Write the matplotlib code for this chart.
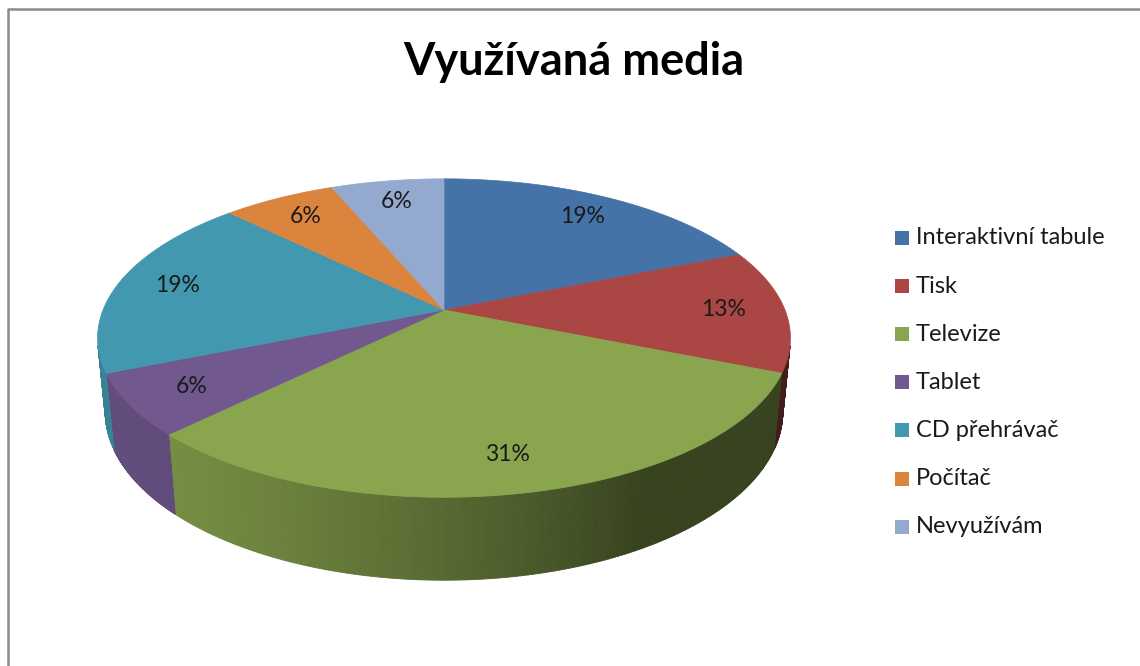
import numpy as np
import matplotlib
matplotlib.use("Agg")
import matplotlib.pyplot as plt
from matplotlib.patches import Polygon, Rectangle
from matplotlib.collections import PolyCollection
from matplotlib.colors import to_rgb

# data
labels = ["Interaktivní tabule", "Tisk", "Televize", "Tablet",
          "CD přehrávač", "Počítač", "Nevyužívám"]
counts = [3, 2, 5, 1, 3, 1, 1]
colors = ["#4572A7", "#AA4643", "#89A54E", "#71588F",
          "#4198AF", "#DB843D", "#93A9CF"]
title = "Využívaná media"

# projection of a flat disc (radius 1, thickness H) seen from above at an angle
CX, CY, S = 444, 310, 341
TILT = np.radians(26.9)
DIST = 5.06
H = 0.244
ct, st = np.cos(TILT), np.sin(TILT)


def project(x, y, z):
    d = DIST + y * ct - z * st
    f = DIST / d
    return CX + S * x * f, CY - S * (y * st + z * ct) * f


def shade(col, th):
    # light from the front left
    k = 0.4 + 0.47 * max(0.0, np.cos(th - np.radians(-150)))
    r, g, b = to_rgb(col)
    return (r * k, g * k, b * k)


plt.rcParams['font.family'] = ['Lato', 'DejaVu Sans']
fig = plt.figure(figsize=(11.4, 6.66), dpi=100)
ax = fig.add_axes([0, 0, 1, 1])
ax.set_xlim(0, 1140)
ax.set_ylim(666, 0)
ax.axis('off')

frac = np.array(counts) / sum(counts)
edges = np.concatenate([[0], np.cumsum(frac)])
# clockwise from 12 o'clock
angles = np.pi / 2 - 2 * np.pi * edges

# side walls (only the part that faces the viewer)
lim = -1.0 / (DIST * ct)
polys, fcs = [], []
for i, col in enumerate(colors):
    th = np.linspace(angles[i], angles[i + 1], 200)
    for a0, a1 in zip(th[:-1], th[1:]):
        if np.sin(a0) > lim and np.sin(a1) > lim:
            continue
        p = [project(np.cos(a0), np.sin(a0), 0), project(np.cos(a1), np.sin(a1), 0),
             project(np.cos(a1), np.sin(a1), -H), project(np.cos(a0), np.sin(a0), -H)]
        polys.append(p)
        fcs.append(shade(col, (a0 + a1) / 2))
ax.add_collection(PolyCollection(polys, facecolors=fcs, edgecolors=fcs, linewidths=0.6))

# top faces
for i, col in enumerate(colors):
    th = np.linspace(angles[i], angles[i + 1], 120)
    pts = [project(0, 0, 0)] + [project(np.cos(a), np.sin(a), 0) for a in th]
    ax.add_patch(Polygon(pts, closed=True, facecolor=col, edgecolor=col, linewidth=0.5))

# percentage labels
for i in range(len(counts)):
    mid = (angles[i] + angles[i + 1]) / 2
    lx, ly = project(0.82 * np.cos(mid), 0.82 * np.sin(mid), 0)
    ax.text(lx, ly, "%d%%" % int(frac[i] * 100 + 0.5), ha='center', va='center',
            fontsize=16.5, color='#1a1a1a')

# legend
for i, (lab, col) in enumerate(zip(labels, colors)):
    y = 238 + i * 48.1
    ax.add_patch(Rectangle((895, y - 7), 14, 14, facecolor=col, edgecolor='none'))
    ax.text(916, y, lab, ha='left', va='center', fontsize=17, color='#1a1a1a')

ax.text(574, 62, title, ha='center', va='center', fontsize=32.5,
        fontweight='bold', color='black')

# chart frame
ax.plot([8, 8, 1145], [670, 9, 9], color='#8a8a8a', linewidth=1.8)

fig.savefig("out.png", dpi=100, facecolor='white')
